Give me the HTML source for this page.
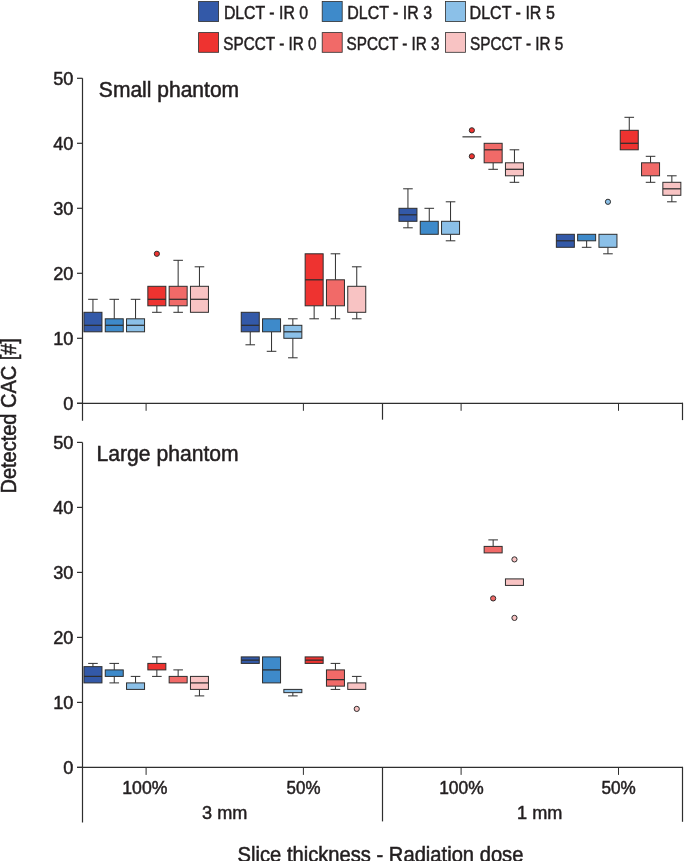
<!DOCTYPE html>
<html><head><meta charset="utf-8"><title>CAC boxplot</title><style>
html,body{margin:0;padding:0;background:#fff;}
svg{display:block;will-change:transform;}
text{font-family:"Liberation Sans", sans-serif;fill:#231f20;stroke:#231f20;stroke-width:0.4px;}
.tl{font-size:18.2px;stroke-width:0.5px;}
.lt{font-size:18.8px;stroke-width:0.5px;}
.ph{font-size:21.2px;stroke-width:0.5px;}
.xt{font-size:22.5px;stroke-width:0.55px;}
.yt{font-size:22px;stroke-width:0.55px;}
.ax{stroke:#2e2e2e;stroke-width:1.2;fill:none;}
.tk{stroke:#2e2e2e;stroke-width:1;fill:none;}
.wh{stroke:#2e2e2e;stroke-width:1;fill:none;}
.bx{stroke:#2e2e2e;stroke-width:1;}
.md{stroke:#2e2e2e;stroke-width:1.25;}
.ol{stroke:#2e2e2e;stroke-width:1;}
.dg{stroke:#606060;stroke-width:1.5;}
.lg{stroke:#2e2e2e;stroke-width:0.8;}
</style></head>
<body><svg width="685" height="861" viewBox="0 0 685 861">
<rect x="198.6" y="1.5" width="20" height="20" fill="#3359a8" class="lg"/>
<rect x="198.6" y="32.6" width="20" height="19.7" fill="#ee3330" class="lg"/>
<text x="223.89" y="19" class="lt" textLength="84.17" lengthAdjust="spacingAndGlyphs">DLCT - IR 0</text>
<text x="223.28" y="49.6" class="lt" textLength="93.34" lengthAdjust="spacingAndGlyphs">SPCCT - IR 0</text>
<rect x="322.2" y="1.5" width="20" height="20" fill="#3e8aca" class="lg"/>
<rect x="322.2" y="32.6" width="20" height="19.7" fill="#f16a68" class="lg"/>
<text x="347.35" y="19" class="lt" textLength="84.67" lengthAdjust="spacingAndGlyphs">DLCT - IR 3</text>
<text x="346.59" y="49.6" class="lt" textLength="93.03" lengthAdjust="spacingAndGlyphs">SPCCT - IR 3</text>
<rect x="445.4" y="1.5" width="20" height="20" fill="#8bc0e8" class="lg"/>
<rect x="445.4" y="32.6" width="20" height="19.7" fill="#f8c3c3" class="lg"/>
<text x="469.57" y="19" class="lt" textLength="85.25" lengthAdjust="spacingAndGlyphs">DLCT - IR 5</text>
<text x="469.98" y="49.6" class="lt" textLength="93.43" lengthAdjust="spacingAndGlyphs">SPCCT - IR 5</text>
<line x1="82.5" y1="78.3" x2="82.5" y2="420.7" class="ax"/>
<line x1="77" y1="403.3" x2="682.5" y2="403.3" class="ax"/>
<line x1="682.5" y1="402.7" x2="682.5" y2="420.1" class="ax"/>
<line x1="382.5" y1="403.3" x2="382.5" y2="419.7" class="ax"/>
<line x1="77" y1="403.3" x2="82.5" y2="403.3" class="ax"/>
<text x="73.4" y="410.1" class="tl" text-anchor="end">0</text>
<line x1="77" y1="338.3" x2="82.5" y2="338.3" class="ax"/>
<text x="73.4" y="345.1" class="tl" text-anchor="end">10</text>
<line x1="77" y1="273.3" x2="82.5" y2="273.3" class="ax"/>
<text x="73.4" y="280.1" class="tl" text-anchor="end">20</text>
<line x1="77" y1="208.3" x2="82.5" y2="208.3" class="ax"/>
<text x="73.4" y="215.1" class="tl" text-anchor="end">30</text>
<line x1="77" y1="143.3" x2="82.5" y2="143.3" class="ax"/>
<text x="73.4" y="150.1" class="tl" text-anchor="end">40</text>
<line x1="77" y1="78.3" x2="82.5" y2="78.3" class="ax"/>
<text x="73.4" y="85.1" class="tl" text-anchor="end">50</text>
<line x1="146.1" y1="403.3" x2="146.1" y2="410.8" class="tk"/>
<line x1="303.4" y1="403.3" x2="303.4" y2="410.8" class="tk"/>
<line x1="461.1" y1="403.3" x2="461.1" y2="410.8" class="tk"/>
<line x1="618.5" y1="403.3" x2="618.5" y2="410.8" class="tk"/>
<text x="98.87" y="96.9" class="ph" textLength="140.26" lengthAdjust="spacingAndGlyphs">Small phantom</text>
<line x1="92.95" y1="299.3" x2="92.95" y2="312.3" class="wh"/>
<line x1="88.15" y1="299.3" x2="97.75" y2="299.3" class="wh"/>
<rect x="83.95" y="312.3" width="18" height="19.5" fill="#3359a8" class="bx"/>
<line x1="83.95" y1="325.3" x2="101.95" y2="325.3" class="md"/>
<line x1="114.25" y1="299.3" x2="114.25" y2="318.8" class="wh"/>
<line x1="109.45" y1="299.3" x2="119.05" y2="299.3" class="wh"/>
<rect x="105.25" y="318.8" width="18" height="13" fill="#3e8aca" class="bx"/>
<line x1="105.25" y1="325.3" x2="123.25" y2="325.3" class="md"/>
<line x1="135.55" y1="299.3" x2="135.55" y2="318.8" class="wh"/>
<line x1="130.75" y1="299.3" x2="140.35" y2="299.3" class="wh"/>
<rect x="126.55" y="318.8" width="18" height="13" fill="#8bc0e8" class="bx"/>
<line x1="126.55" y1="325.3" x2="144.55" y2="325.3" class="md"/>
<line x1="156.85" y1="305.8" x2="156.85" y2="312.3" class="wh"/>
<line x1="152.05" y1="312.3" x2="161.65" y2="312.3" class="wh"/>
<rect x="147.85" y="286.3" width="18" height="19.5" fill="#ee3330" class="bx"/>
<line x1="147.85" y1="299.3" x2="165.85" y2="299.3" class="md"/>
<circle cx="156.85" cy="253.8" r="2.6" fill="#ee3330" class="ol"/>
<line x1="178.15" y1="260.3" x2="178.15" y2="286.3" class="wh"/>
<line x1="173.35" y1="260.3" x2="182.95" y2="260.3" class="wh"/>
<line x1="178.15" y1="305.8" x2="178.15" y2="312.3" class="wh"/>
<line x1="173.35" y1="312.3" x2="182.95" y2="312.3" class="wh"/>
<rect x="169.15" y="286.3" width="18" height="19.5" fill="#f16a68" class="bx"/>
<line x1="169.15" y1="299.3" x2="187.15" y2="299.3" class="md"/>
<line x1="199.45" y1="266.8" x2="199.45" y2="286.3" class="wh"/>
<line x1="194.65" y1="266.8" x2="204.25" y2="266.8" class="wh"/>
<rect x="190.45" y="286.3" width="18" height="26" fill="#f8c3c3" class="bx"/>
<line x1="190.45" y1="299.3" x2="208.45" y2="299.3" class="md"/>
<line x1="250.25" y1="331.8" x2="250.25" y2="344.8" class="wh"/>
<line x1="245.45" y1="344.8" x2="255.05" y2="344.8" class="wh"/>
<rect x="241.25" y="312.3" width="18" height="19.5" fill="#3359a8" class="bx"/>
<line x1="241.25" y1="325.3" x2="259.25" y2="325.3" class="md"/>
<line x1="271.55" y1="331.8" x2="271.55" y2="351.3" class="wh"/>
<line x1="266.75" y1="351.3" x2="276.35" y2="351.3" class="wh"/>
<rect x="262.55" y="318.8" width="18" height="13" fill="#3e8aca" class="bx"/>
<line x1="292.85" y1="318.8" x2="292.85" y2="325.3" class="wh"/>
<line x1="288.05" y1="318.8" x2="297.65" y2="318.8" class="wh"/>
<line x1="292.85" y1="338.3" x2="292.85" y2="357.8" class="wh"/>
<line x1="288.05" y1="357.8" x2="297.65" y2="357.8" class="wh"/>
<rect x="283.85" y="325.3" width="18" height="13" fill="#8bc0e8" class="bx"/>
<line x1="283.85" y1="331.8" x2="301.85" y2="331.8" class="md"/>
<line x1="314.15" y1="305.8" x2="314.15" y2="318.8" class="wh"/>
<line x1="309.35" y1="318.8" x2="318.95" y2="318.8" class="wh"/>
<rect x="305.15" y="253.8" width="18" height="52" fill="#ee3330" class="bx"/>
<line x1="305.15" y1="279.8" x2="323.15" y2="279.8" class="md"/>
<line x1="335.45" y1="253.8" x2="335.45" y2="279.8" class="wh"/>
<line x1="330.65" y1="253.8" x2="340.25" y2="253.8" class="wh"/>
<line x1="335.45" y1="305.8" x2="335.45" y2="318.8" class="wh"/>
<line x1="330.65" y1="318.8" x2="340.25" y2="318.8" class="wh"/>
<rect x="326.45" y="279.8" width="18" height="26" fill="#f16a68" class="bx"/>
<line x1="356.75" y1="266.8" x2="356.75" y2="286.3" class="wh"/>
<line x1="351.95" y1="266.8" x2="361.55" y2="266.8" class="wh"/>
<line x1="356.75" y1="312.3" x2="356.75" y2="318.8" class="wh"/>
<line x1="351.95" y1="318.8" x2="361.55" y2="318.8" class="wh"/>
<rect x="347.75" y="286.3" width="18" height="26" fill="#f8c3c3" class="bx"/>
<line x1="407.95" y1="188.8" x2="407.95" y2="208.3" class="wh"/>
<line x1="403.15" y1="188.8" x2="412.75" y2="188.8" class="wh"/>
<line x1="407.95" y1="221.3" x2="407.95" y2="227.8" class="wh"/>
<line x1="403.15" y1="227.8" x2="412.75" y2="227.8" class="wh"/>
<rect x="398.95" y="208.3" width="18" height="13" fill="#3359a8" class="bx"/>
<line x1="398.95" y1="214.8" x2="416.95" y2="214.8" class="md"/>
<line x1="429.25" y1="208.3" x2="429.25" y2="221.3" class="wh"/>
<line x1="424.45" y1="208.3" x2="434.05" y2="208.3" class="wh"/>
<rect x="420.25" y="221.3" width="18" height="13" fill="#3e8aca" class="bx"/>
<line x1="450.55" y1="201.8" x2="450.55" y2="221.3" class="wh"/>
<line x1="445.75" y1="201.8" x2="455.35" y2="201.8" class="wh"/>
<line x1="450.55" y1="234.3" x2="450.55" y2="240.8" class="wh"/>
<line x1="445.75" y1="240.8" x2="455.35" y2="240.8" class="wh"/>
<rect x="441.55" y="221.3" width="18" height="13" fill="#8bc0e8" class="bx"/>
<line x1="462.45" y1="136.8" x2="481.25" y2="136.8" class="dg"/>
<circle cx="471.85" cy="130.3" r="2.6" fill="#ee3330" class="ol"/>
<circle cx="471.85" cy="156.3" r="2.6" fill="#ee3330" class="ol"/>
<line x1="493.15" y1="162.8" x2="493.15" y2="169.3" class="wh"/>
<line x1="488.35" y1="169.3" x2="497.95" y2="169.3" class="wh"/>
<rect x="484.15" y="143.3" width="18" height="19.5" fill="#f16a68" class="bx"/>
<line x1="484.15" y1="149.8" x2="502.15" y2="149.8" class="md"/>
<line x1="514.45" y1="149.8" x2="514.45" y2="162.8" class="wh"/>
<line x1="509.65" y1="149.8" x2="519.25" y2="149.8" class="wh"/>
<line x1="514.45" y1="175.8" x2="514.45" y2="182.3" class="wh"/>
<line x1="509.65" y1="182.3" x2="519.25" y2="182.3" class="wh"/>
<rect x="505.45" y="162.8" width="18" height="13" fill="#f8c3c3" class="bx"/>
<line x1="505.45" y1="169.3" x2="523.45" y2="169.3" class="md"/>
<rect x="556.35" y="234.3" width="18" height="13" fill="#3359a8" class="bx"/>
<line x1="556.35" y1="240.8" x2="574.35" y2="240.8" class="md"/>
<line x1="586.65" y1="240.8" x2="586.65" y2="247.3" class="wh"/>
<line x1="581.85" y1="247.3" x2="591.45" y2="247.3" class="wh"/>
<rect x="577.65" y="234.3" width="18" height="6.5" fill="#3e8aca" class="bx"/>
<line x1="607.95" y1="247.3" x2="607.95" y2="253.8" class="wh"/>
<line x1="603.15" y1="253.8" x2="612.75" y2="253.8" class="wh"/>
<rect x="598.95" y="234.3" width="18" height="13" fill="#8bc0e8" class="bx"/>
<circle cx="607.95" cy="201.8" r="2.6" fill="#8bc0e8" class="ol"/>
<line x1="629.25" y1="117.3" x2="629.25" y2="130.3" class="wh"/>
<line x1="624.45" y1="117.3" x2="634.05" y2="117.3" class="wh"/>
<rect x="620.25" y="130.3" width="18" height="19.5" fill="#ee3330" class="bx"/>
<line x1="620.25" y1="143.3" x2="638.25" y2="143.3" class="md"/>
<line x1="650.55" y1="156.3" x2="650.55" y2="162.8" class="wh"/>
<line x1="645.75" y1="156.3" x2="655.35" y2="156.3" class="wh"/>
<line x1="650.55" y1="175.8" x2="650.55" y2="182.3" class="wh"/>
<line x1="645.75" y1="182.3" x2="655.35" y2="182.3" class="wh"/>
<rect x="641.55" y="162.8" width="18" height="13" fill="#f16a68" class="bx"/>
<line x1="671.85" y1="175.8" x2="671.85" y2="182.3" class="wh"/>
<line x1="667.05" y1="175.8" x2="676.65" y2="175.8" class="wh"/>
<line x1="671.85" y1="195.3" x2="671.85" y2="201.8" class="wh"/>
<line x1="667.05" y1="201.8" x2="676.65" y2="201.8" class="wh"/>
<rect x="662.85" y="182.3" width="18" height="13" fill="#f8c3c3" class="bx"/>
<line x1="662.85" y1="188.8" x2="680.85" y2="188.8" class="md"/>
<line x1="82.5" y1="442.4" x2="82.5" y2="822.4" class="ax"/>
<line x1="77" y1="767.4" x2="682.5" y2="767.4" class="ax"/>
<line x1="682.5" y1="766.8" x2="682.5" y2="821.8" class="ax"/>
<line x1="382.5" y1="767.4" x2="382.5" y2="821.4" class="ax"/>
<line x1="77" y1="767.4" x2="82.5" y2="767.4" class="ax"/>
<text x="73.4" y="774.2" class="tl" text-anchor="end">0</text>
<line x1="77" y1="702.4" x2="82.5" y2="702.4" class="ax"/>
<text x="73.4" y="709.2" class="tl" text-anchor="end">10</text>
<line x1="77" y1="637.4" x2="82.5" y2="637.4" class="ax"/>
<text x="73.4" y="644.2" class="tl" text-anchor="end">20</text>
<line x1="77" y1="572.4" x2="82.5" y2="572.4" class="ax"/>
<text x="73.4" y="579.2" class="tl" text-anchor="end">30</text>
<line x1="77" y1="507.4" x2="82.5" y2="507.4" class="ax"/>
<text x="73.4" y="514.2" class="tl" text-anchor="end">40</text>
<line x1="77" y1="442.4" x2="82.5" y2="442.4" class="ax"/>
<text x="73.4" y="449.2" class="tl" text-anchor="end">50</text>
<line x1="146.1" y1="767.4" x2="146.1" y2="774.9" class="tk"/>
<line x1="303.4" y1="767.4" x2="303.4" y2="774.9" class="tk"/>
<line x1="461.1" y1="767.4" x2="461.1" y2="774.9" class="tk"/>
<line x1="618.5" y1="767.4" x2="618.5" y2="774.9" class="tk"/>
<text x="96.56" y="460.8" class="ph" textLength="142.09" lengthAdjust="spacingAndGlyphs">Large phantom</text>
<line x1="92.95" y1="663.4" x2="92.95" y2="666.65" class="wh"/>
<line x1="88.15" y1="663.4" x2="97.75" y2="663.4" class="wh"/>
<rect x="83.95" y="666.65" width="18" height="16.25" fill="#3359a8" class="bx"/>
<line x1="83.95" y1="676.4" x2="101.95" y2="676.4" class="md"/>
<line x1="114.25" y1="663.4" x2="114.25" y2="669.9" class="wh"/>
<line x1="109.45" y1="663.4" x2="119.05" y2="663.4" class="wh"/>
<line x1="114.25" y1="676.4" x2="114.25" y2="682.9" class="wh"/>
<line x1="109.45" y1="682.9" x2="119.05" y2="682.9" class="wh"/>
<rect x="105.25" y="669.9" width="18" height="6.5" fill="#3e8aca" class="bx"/>
<line x1="135.55" y1="676.4" x2="135.55" y2="682.9" class="wh"/>
<line x1="130.75" y1="676.4" x2="140.35" y2="676.4" class="wh"/>
<rect x="126.55" y="682.9" width="18" height="6.5" fill="#8bc0e8" class="bx"/>
<line x1="156.85" y1="656.9" x2="156.85" y2="663.4" class="wh"/>
<line x1="152.05" y1="656.9" x2="161.65" y2="656.9" class="wh"/>
<line x1="156.85" y1="669.9" x2="156.85" y2="676.4" class="wh"/>
<line x1="152.05" y1="676.4" x2="161.65" y2="676.4" class="wh"/>
<rect x="147.85" y="663.4" width="18" height="6.5" fill="#ee3330" class="bx"/>
<line x1="178.15" y1="669.9" x2="178.15" y2="676.4" class="wh"/>
<line x1="173.35" y1="669.9" x2="182.95" y2="669.9" class="wh"/>
<rect x="169.15" y="676.4" width="18" height="6.5" fill="#f16a68" class="bx"/>
<line x1="199.45" y1="689.4" x2="199.45" y2="695.9" class="wh"/>
<line x1="194.65" y1="695.9" x2="204.25" y2="695.9" class="wh"/>
<rect x="190.45" y="676.4" width="18" height="13" fill="#f8c3c3" class="bx"/>
<line x1="190.45" y1="682.9" x2="208.45" y2="682.9" class="md"/>
<rect x="241.25" y="656.9" width="18" height="6.5" fill="#3359a8" class="bx"/>
<line x1="241.25" y1="660.15" x2="259.25" y2="660.15" class="md"/>
<rect x="262.55" y="656.9" width="18" height="26" fill="#3e8aca" class="bx"/>
<line x1="262.55" y1="669.9" x2="280.55" y2="669.9" class="md"/>
<line x1="292.85" y1="692.65" x2="292.85" y2="695.9" class="wh"/>
<line x1="288.05" y1="695.9" x2="297.65" y2="695.9" class="wh"/>
<rect x="283.85" y="689.4" width="18" height="3.25" fill="#8bc0e8" class="bx"/>
<rect x="305.15" y="656.9" width="18" height="6.5" fill="#ee3330" class="bx"/>
<line x1="305.15" y1="660.15" x2="323.15" y2="660.15" class="md"/>
<line x1="335.45" y1="663.4" x2="335.45" y2="669.9" class="wh"/>
<line x1="330.65" y1="663.4" x2="340.25" y2="663.4" class="wh"/>
<line x1="335.45" y1="686.15" x2="335.45" y2="689.4" class="wh"/>
<line x1="330.65" y1="689.4" x2="340.25" y2="689.4" class="wh"/>
<rect x="326.45" y="669.9" width="18" height="16.25" fill="#f16a68" class="bx"/>
<line x1="326.45" y1="679.65" x2="344.45" y2="679.65" class="md"/>
<line x1="356.75" y1="676.4" x2="356.75" y2="682.9" class="wh"/>
<line x1="351.95" y1="676.4" x2="361.55" y2="676.4" class="wh"/>
<rect x="347.75" y="682.9" width="18" height="6.5" fill="#f8c3c3" class="bx"/>
<circle cx="356.75" cy="708.9" r="2.6" fill="#f8c3c3" class="ol"/>
<line x1="493.15" y1="539.9" x2="493.15" y2="546.4" class="wh"/>
<line x1="488.35" y1="539.9" x2="497.95" y2="539.9" class="wh"/>
<rect x="484.15" y="546.4" width="18" height="6.5" fill="#f16a68" class="bx"/>
<circle cx="493.15" cy="598.4" r="2.6" fill="#f16a68" class="ol"/>
<rect x="505.45" y="578.9" width="18" height="6.5" fill="#f8c3c3" class="bx"/>
<circle cx="514.45" cy="559.4" r="2.6" fill="#f8c3c3" class="ol"/>
<circle cx="514.45" cy="617.9" r="2.6" fill="#f8c3c3" class="ol"/>
<text x="122.31" y="794.2" class="tl" textLength="45.15" lengthAdjust="spacingAndGlyphs">100%</text>
<text x="286.57" y="794.2" class="tl" textLength="33.86" lengthAdjust="spacingAndGlyphs">50%</text>
<text x="439.13" y="794.2" class="tl" textLength="44.47" lengthAdjust="spacingAndGlyphs">100%</text>
<text x="601.44" y="794.2" class="tl" textLength="34.32" lengthAdjust="spacingAndGlyphs">50%</text>
<text x="202.06" y="819.2" class="tl" textLength="45.27" lengthAdjust="spacingAndGlyphs">3 mm</text>
<text x="517.12" y="819.2" class="tl" textLength="45.32" lengthAdjust="spacingAndGlyphs">1 mm</text>
<text x="237.58" y="861.5" class="xt" textLength="285.82" lengthAdjust="spacingAndGlyphs">Slice thickness - Radiation dose</text>
<text transform="translate(16.2,493.5) rotate(-90)" x="0" y="0" class="yt" textLength="155.4" lengthAdjust="spacingAndGlyphs">Detected CAC [#]</text>
</svg></body></html>
